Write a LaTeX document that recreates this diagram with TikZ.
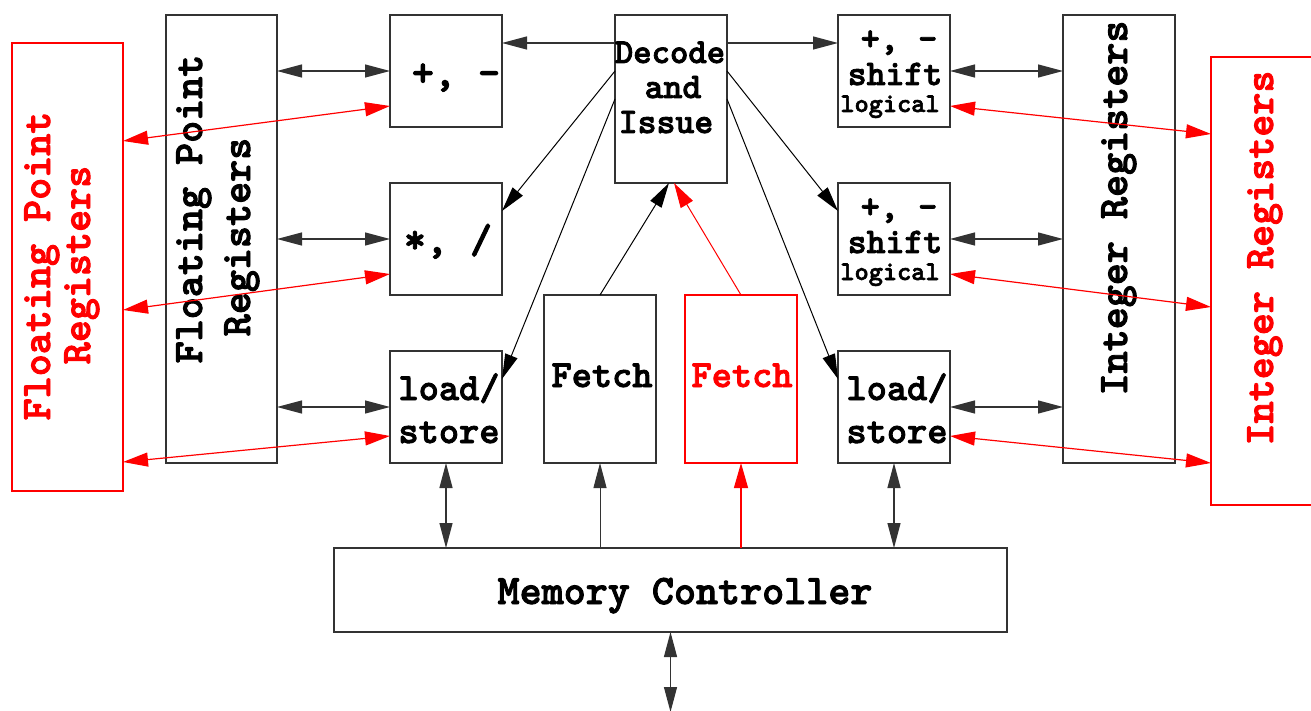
\documentclass[tikz,border=0pt]{standalone}
\usepackage{fontspec}
\newfontfamily\cour{lmmonolt10-bold.otf}[FakeBold=2.2]
\usetikzlibrary{arrows.meta}
\definecolor{edge}{HTML}{333333}
\definecolor{hot}{HTML}{FF0000}
\tikzset{
  unit/.style={draw=edge, line width=1.4pt, inner sep=0pt, outer sep=0pt},
  redunit/.style={draw=hot, line width=1.3pt, inner sep=0pt, outer sep=0pt},
  lbl/.style={anchor=base, inner sep=0pt, font=\cour\fontsize{#1}{#1}\selectfont},
  lbl/.default=42,
  vlbl/.style={lbl=42, rotate=90},
  link/.style={draw=edge, line width=1.2pt, -{Triangle[length=25pt,width=13pt]}},
  dlink/.style={draw=edge, line width=1.2pt, {Triangle[length=25pt,width=13pt]}-{Triangle[length=25pt,width=13pt]}},
  rlink/.style={draw=hot, line width=1.2pt, -{Triangle[length=25pt,width=14pt]}},
  rdlink/.style={draw=hot, line width=1.2pt, {Triangle[length=25pt,width=14pt]}-{Triangle[length=25pt,width=14pt]}},
}
\begin{document}
\begin{tikzpicture}[x=1pt, y=-1pt]
\useasboundingbox (0,0) rectangle (1311,711);

% register files
\node[redunit, minimum width=111pt, minimum height=448pt] (fpred) at (67.5,267) {};
\node[unit, minimum width=111pt, minimum height=448pt] (fpr) at (221.5,239) {};
\node[unit, minimum width=112pt, minimum height=448pt] (ir) at (1119,239) {};
\node[redunit, minimum width=111pt, minimum height=448pt] (irred) at (1266.5,281) {};

% floating point units
\node[unit, minimum width=112pt, minimum height=112pt] (addA) at (446,71) {};
\node[unit, minimum width=112pt, minimum height=112pt] (mulA) at (446,239) {};
\node[unit, minimum width=112pt, minimum height=112pt] (lsA) at (446,407) {};

% decode / fetch
\node[unit, minimum width=112pt, minimum height=168pt] (dec) at (671,99) {};
\node[unit, minimum width=112pt, minimum height=168pt] (fetch) at (600,379) {};
\node[redunit, minimum width=112pt, minimum height=168pt] (fetchR) at (741,379) {};

% integer units
\node[unit, minimum width=112pt, minimum height=112pt] (aluB) at (894,71) {};
\node[unit, minimum width=112pt, minimum height=112pt] (aluC) at (894,239) {};
\node[unit, minimum width=112pt, minimum height=112pt] (lsB) at (894,407) {};

% memory controller
\node[unit, minimum width=673pt, minimum height=84pt] (mem) at (670.5,590) {};
\coordinate (ext) at (670.5,712);

% labels
\node[vlbl, text=hot] (fpredA) at (50,266) {Floating Point};
\node[vlbl, text=hot] (fpredB) at (90,265) {Registers};
\node[vlbl] (fprA) at (202,209) {Floating Point};
\node[vlbl] (fprB) at (250,237) {Registers};
\node[vlbl] (irA) at (1127,208) {Integer Registers};
\node[vlbl, text=hot] (irredA) at (1273,258) {Integer Registers};

\node[lbl] (addAt) at (456,86) {+, -};
\node[lbl] (mulAt) at (448,253) {*, /};
\node[lbl=38.5] (lsAa) at (449,400) {load/};
\node[lbl=38.5] (lsAb) at (449,443) {store};

\node[lbl=35] (deca) at (670,63) {Decode};
\node[lbl=36] (decb) at (673,98) {and};
\node[lbl=36] (decc) at (666,133) {Issue};

\node[lbl=38.5] (fetcht) at (602,387) {Fetch};
\node[lbl=38.5, text=hot] (fetchRt) at (742,387) {Fetch};

\node[lbl=36.5] (aluBa) at (899,50) {+, -};
\node[lbl=36] (aluBb) at (895,85) {shift};
\node[lbl=27] (aluBc) at (890,112) {logical};
\node[lbl=36.5] (aluCa) at (899,218) {+, -};
\node[lbl=36] (aluCb) at (895,253) {shift};
\node[lbl=27] (aluCc) at (890,280) {logical};
\node[lbl=38.5] (lsBa) at (897,400) {load/};
\node[lbl=38.5] (lsBb) at (897,443) {store};

\node[lbl] (memt) at (685,604) {Memory Controller};

% register file <-> floating point units
\draw[dlink] (fpr.east |- addA.west) -- (addA.west);
\draw[dlink] (fpr.east |- mulA.west) -- (mulA.west);
\draw[dlink] (fpr.east |- lsA.west) -- (lsA.west);
\draw[rdlink] ([yshift=126pt]fpred.east) -- ([yshift=-35pt]addA.west);
\draw[rdlink] ([yshift=-43pt]fpred.east) -- ([yshift=-35pt]mulA.west);
\draw[rdlink] ([yshift=-195pt]fpred.east) -- ([yshift=-29pt]lsA.west);

% issue paths
\draw[link] ([yshift=56pt]dec.west) -- ([yshift=28pt]addA.east);
\draw[link] ([yshift=56pt]dec.east) -- ([yshift=28pt]aluB.west);
\draw[link, draw=black, line width=1pt] ([yshift=28pt]dec.west) -- ([yshift=28pt]mulA.east);
\draw[link, draw=black, line width=1pt] (dec.west) -- ([yshift=28pt]lsA.east);
\draw[link, draw=black, line width=1pt] ([yshift=28pt]dec.east) -- ([yshift=28pt]aluC.west);
\draw[link, draw=black, line width=1pt] (dec.east) -- ([yshift=28pt]lsB.west);

% fetch -> decode
\draw[link, draw=black, line width=1pt] (fetch.north) -- ([xshift=-2pt]dec.south);
\draw[rlink, line width=1pt] (fetchR.north) -- ([xshift=3pt]dec.south);

% memory paths
\draw[dlink] (lsA.south) -- (lsA.south |- mem.north);
\draw[link, line width=1pt] (fetch.south |- mem.north) -- (fetch.south);
\draw[rlink] (fetchR.south |- mem.north) -- (fetchR.south);
\draw[dlink] (lsB.south) -- (lsB.south |- mem.north);
\draw[dlink] (mem.south) -- (ext);

% integer units <-> register files
\draw[dlink] (aluB.east) -- (aluB.east -| ir.west);
\draw[dlink] (aluC.east) -- (aluC.east -| ir.west);
\draw[dlink] (lsB.east) -- (lsB.east -| ir.west);
\draw[rdlink] ([yshift=-35pt]aluB.east) -- ([yshift=147pt]irred.west);
\draw[rdlink] ([yshift=-35pt]aluC.east) -- ([yshift=-26pt]irred.west);
\draw[rdlink] ([yshift=-29pt]lsB.east) -- ([yshift=-182pt]irred.west);
\end{tikzpicture}
\end{document}
